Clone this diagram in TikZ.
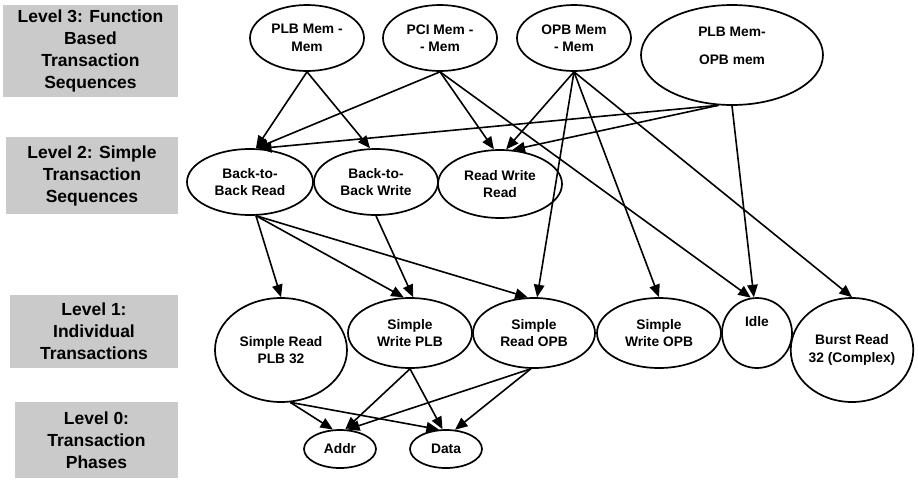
\documentclass[tikz,border=0pt]{standalone}
\usepackage{fontspec}
\setmainfont{Liberation Sans}
\usetikzlibrary{shapes.geometric,arrows.meta}
\definecolor{lvlgray}{RGB}{202,202,202}
\begin{document}
\begin{tikzpicture}[x=1pt,y=-1pt,
  lvl/.style={fill=lvlgray, draw=none, font=\fontsize{17.5}{22}\selectfont\bfseries, align=center, inner sep=0pt},
  ell/.style={ellipse, draw, line width=1.7pt, inner sep=0pt, font=\fontsize{13.8}{17.5}\selectfont\bfseries, align=center},
  etxt/.style={inner sep=0pt, font=\fontsize{13.8}{17.5}\selectfont\bfseries, align=center},
  arr/.style={line width=1.6pt, -{Triangle[length=12.5pt,width=10.5pt]}}]
\useasboundingbox (0,0) rectangle (918,480);
% level boxes
\node[lvl, minimum width=175pt, minimum height=92pt] (l3) at (90.5,51) {Level 3: Function\\Based\\Transaction\\Sequences};
\node[lvl, minimum width=172pt, minimum height=77pt] (l2) at (92,175.5) {Level 2: Simple\\Transaction\\Sequences};
\node[lvl, minimum width=168pt, minimum height=73pt] (l1) at (94,331.5) {Level 1:\\Individual\\Transactions};
\node[lvl, minimum width=163pt, minimum height=76pt] (l0) at (96.5,440) {Level 0:\\Transaction\\Phases};
% level 3
\node[ell, minimum width=114pt, minimum height=66pt] (plbmm) at (307,38) {PLB Mem -\\Mem};
\node[ell, minimum width=114pt, minimum height=66pt] (pcimm) at (440,38) {PCI Mem -\\- Mem};
\node[ell, minimum width=114pt, minimum height=66pt] (opbmm) at (574,38) {OPB Mem\\- Mem};
\node[ell, minimum width=182pt, minimum height=100pt] (plbopb) at (732,55) {};
\node[etxt] (plbopbtxt) at (732,46) {PLB Mem-\\[10pt]OPB mem};
% level 2
\node[ell, minimum width=126pt, minimum height=66pt] (b2br) at (250,182) {Back-to-\\Back Read};
\node[ell, minimum width=124pt, minimum height=66pt] (b2bw) at (376,182) {Back-to-\\Back Write};
\node[ell, minimum width=124pt, minimum height=68pt] (rwr) at (500,184) {Read Write\\Read};
% level 1
\node[ell, minimum width=132pt, minimum height=104pt] (srplb) at (281,350) {Simple Read\\PLB 32};
\node[ell, minimum width=124pt, minimum height=70pt] (swplb) at (410,333) {Simple\\Write PLB};
\node[ell, minimum width=122pt, minimum height=70pt] (sropb) at (534,333) {Simple\\Read OPB};
\node[ell, minimum width=124pt, minimum height=70pt] (swopb) at (659,333) {Simple\\Write OPB};
\node[ell, minimum width=70pt, minimum height=70pt] (idle) at (757,333) {};
\node[etxt] (idletxt) at (757,322) {Idle};
\node[ell, minimum width=120pt, minimum height=104pt] (burst) at (852,350) {Burst Read\\32 (Complex)};
% level 0
\node[ell, minimum width=72pt, minimum height=38pt] (addr) at (340,449) {Addr};
\node[ell, minimum width=72pt, minimum height=38pt] (data) at (446,449) {Data};
% connectors
\draw[arr] (plbmm.south) -- (b2br.80);
\draw[arr] (plbmm.south) -- (b2bw.100);
\draw[arr] (pcimm.south) -- (b2br.80);
\draw[arr] (pcimm.south) -- (rwr.100);
\draw[arr] (pcimm.south) -- (idle.100);
\draw[arr] (opbmm.south) -- (rwr.80);
\draw[arr] (opbmm.south) -- (sropb.85);
\draw[arr] (opbmm.south) -- (swopb.north);
\draw[arr] (opbmm.south) -- (burst.north);
\draw[arr] (plbopb.255) -- (b2br.75);
\draw[arr] (plbopb.255) -- (rwr.70);
\draw[arr] (plbopb.south) -- (idle.95);
\draw[arr] (b2br.280) -- (srplb.north);
\draw[arr] (b2br.280) -- (swplb.100);
\draw[arr] (b2br.280) -- (sropb.100);
\draw[arr] (b2bw.south) -- (swplb.85);
\draw[arr] (srplb.280) -- (addr.110);
\draw[arr] (srplb.280) -- (data.110);
\draw[arr] (swplb.south) -- (addr.75);
\draw[arr] (swplb.south) -- (data.100);
\draw[arr] (sropb.265) -- (addr.70);
\draw[arr] (sropb.265) -- (data.65);
\end{tikzpicture}
\end{document}
